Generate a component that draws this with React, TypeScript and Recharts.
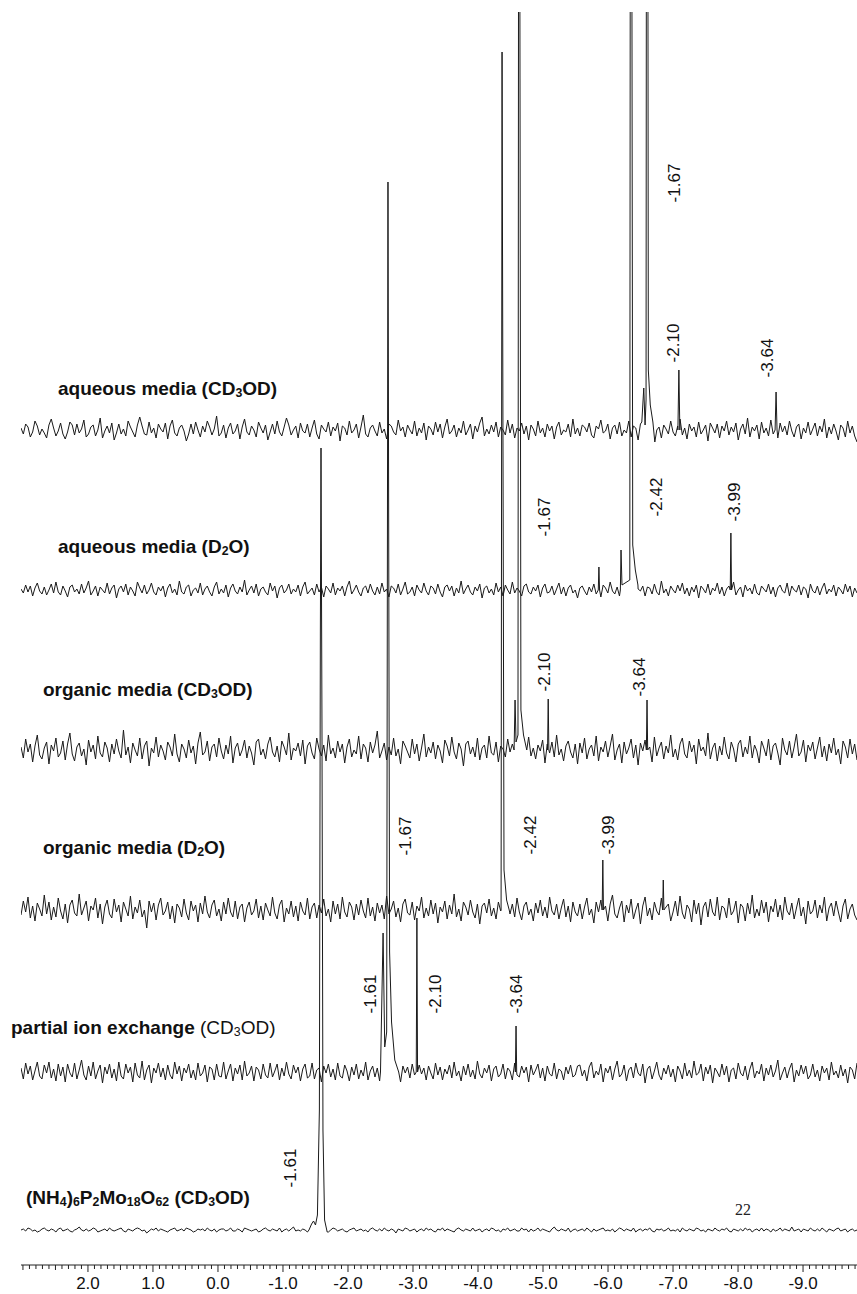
import React from 'react';
import { ComposedChart, Line, Scatter, XAxis, YAxis } from 'recharts';

// chemical shift axis (as printed) and layout of the stacked traces
const X_MAX = 3.03;
const X_MIN = -9.83;
const Y_TOP = 1253;
const MAJOR_TICKS = [2, 1, 0, -1, -2, -3, -4, -5, -6, -7, -8, -9];

// baseline offset of each trace, bottom to top
const OFFSETS = [35, 193, 355, 515, 675, 835];

// baseline noise of each trace (intensity units), left to right
const NOISE_F = [
  0,1,-1,2,1,-1,0,-2,-1,1,2,0,-1,1,0,-2,1,2,-1,0,
  1,-1,-2,0,1,3,0,-1,1,-1,0,2,1,-2,-1,0,1,-1,2,0,
  -1,0,1,2,-1,-2,1,0,-1,1,2,1,-1,0,-3,-1,1,0,2,-1,
  1,0,-1,-2,0,1,2,-1,0,1,-1,2,1,0,-2,-1,1,0,1,-1,
  2,0,-1,1,-2,0,1,1,-1,0,2,-1,-1,1,0,-2,2,1,0,-1,
  0,1,-2,-1,1,2,0,-1,1,0,-1,2,-2,0,1,-1,1,3,-1,0,
  -1,1,0,-2,1,0,2,-1,-1,1,0,1,-2,0,2,1,-1,0,1,-1,
  -2,0,1,2,-1,0,1,-1,0,-2,1,2,0,-1,1,-1,2,0,-1,1,
  0,-3,1,0,-1,2,1,-1,0,1,-2,0,1,-1,2,0,1,-1,-2,1,
  0,2,-1,1,0,-1,-2,1,2,0,-1,1,0,-1,2,-1,0,1,-2,0,
  1,-1,2,1,-1,0,-2,1,0,2,-1,0,1,-1,-1,2,0,1,-2,1,
  -1,0,2,-1,1,0,-1,-2,1,3,0,-1,1,0,-1,2,-2,0,1,-1,
  0,1,-1,2,0,-2,1,-1,0,1,2,-1,0,-1,1,-2,0,2,1,-1,
  1,0,-1,2,-2,0,1,-1,1,0,2,-1,-2,1,0,1,-1,0,2,-1,
  0,-1,1,-2,2,0,-1,1,0,-1,2,1,-1,0,-2,1,0,-1,2,0,
  -1,1,0,2,-1,-2,1,0,-1,1,-1,2,0,1,-2,0,1,-1,2,-1,
  1,0,-2,1,-1,0,2,-1,1,0,-1,3,-1,0,1,-2,1,0,-1,2,
  0,-1,1,-1,2,0,-2,1,0,-1,1,2,-1,0,1,-2,0,1,-1,0,
];
const NOISE_E = [
  4,-7,9,-2,6,-8,1,10,-4,-7,7,-1,10,-6,3,-9,8,-4,5,-10,
  8,-1,-5,9,-7,2,12,-3,-8,6,-4,10,-7,1,7,-11,5,-2,8,-6,
  3,-9,10,-4,-7,8,-1,5,-10,9,-3,-6,11,-8,2,7,-11,4,-1,9,
  -5,4,-8,7,-3,-7,10,-2,6,-9,4,-1,8,-6,2,-8,9,-4,-1,7,
  -10,5,3,-8,8,-4,-5,10,-7,1,8,-9,4,-2,7,-8,11,-4,-1,6,
  -9,5,2,-7,8,-3,-6,9,-5,1,8,-8,4,-4,10,-2,-7,7,-1,5,
  -9,3,8,-6,-4,9,-7,2,4,-10,6,-1,8,-5,3,-8,9,-4,-6,7,
  1,-9,5,-3,8,-7,2,-4,10,-8,1,6,-5,4,-9,7,-2,-7,5,-4,
  9,-3,2,-10,6,-1,5,-6,8,-3,-5,7,-2,4,-8,6,-1,-7,9,-3,
  5,-8,3,-2,7,-6,10,-4,1,-9,6,-3,8,-5,2,-7,11,-2,-6,4,
  -1,7,-9,3,6,-5,-2,8,-7,4,1,-8,9,-3,-5,6,-1,5,-10,7,
  -3,2,8,-6,4,-9,6,-2,-4,9,-7,3,1,-8,5,-2,7,-5,-3,6,
  7,-4,2,-9,5,10,-6,1,-3,8,-10,4,-1,6,-8,3,11,-5,-2,7,
  -9,2,5,-6,9,-1,-4,8,-11,3,6,-7,1,10,-3,-8,4,-2,7,-5,
  3,-10,6,1,-7,9,-4,2,-6,11,-3,-1,8,-9,5,-2,7,-11,4,0,
  -5,8,-3,6,-10,2,4,-7,9,-1,-4,6,-8,3,10,-6,1,-2,8,-9,
  4,-3,7,-5,1,12,-8,-1,5,-6,3,9,-10,2,-4,7,-2,6,-7,-3,
  8,-5,2,-9,6,-1,4,-8,10,-3,1,-6,7,-4,3,-11,5,2,-7,9,
];
const NOISE_D = [
  -5,9,-2,13,-8,4,-11,7,1,-6,15,-4,8,-10,3,-7,12,-1,-9,6,
  -13,5,10,-3,-6,16,-5,2,9,-11,4,0,12,-8,6,-14,3,10,-4,-8,
  11,-2,5,-12,8,1,-6,14,-9,3,-3,10,-7,0,-18,9,-2,7,-10,5,
  12,-5,-1,8,-9,4,-13,6,2,-7,11,-3,-10,9,-1,5,-12,7,-4,14,
  -2,-8,5,10,-6,1,-11,8,-4,12,-2,-7,9,-9,3,6,-12,2,8,-5,
  -1,11,-8,4,-10,7,0,-6,13,-3,-9,5,10,-12,2,-4,9,-7,4,-11,
  8,-1,-5,12,-9,3,7,-8,5,-3,11,-6,1,-12,9,-4,6,-9,13,-2,
  -7,8,3,-10,6,-5,10,-1,-8,12,-6,3,-11,7,-3,5,-9,14,-4,1,
  9,-7,2,-12,6,11,-3,-5,8,-10,4,-1,13,-8,2,-6,10,-4,7,-13,
  3,-2,9,-9,5,-4,16,-7,1,-11,8,3,-5,10,-2,-8,6,-14,4,7,
  -3,11,-6,2,-9,8,-1,5,-12,9,-4,6,-7,12,-2,-10,4,8,-5,1,
  -11,7,-3,10,-6,3,-8,13,-1,-5,6,-9,2,11,-7,4,-12,8,-2,-6,
  6,-9,3,12,-5,1,-13,8,-2,10,-7,4,-11,6,15,-4,-8,2,9,-12,
  5,-3,11,-9,0,7,-14,4,13,-6,2,-10,8,-1,-5,12,-8,3,6,-11,
  -2,9,-6,14,-3,-9,5,1,-12,10,-4,7,-15,3,8,-7,11,-2,-6,13,
  -10,4,2,-8,12,-5,-1,9,-13,6,3,-11,7,-4,15,-8,1,-6,10,-3,
  8,-12,4,-2,11,-7,5,-10,13,-1,-5,7,-9,2,12,-6,3,-14,9,-4,
  -1,10,-8,5,-3,13,-11,2,7,-6,9,-2,-12,4,11,-9,1,6,-5,-10,
];
const NOISE_C = [
  3,-8,11,-2,6,-12,4,15,-5,-9,2,8,-14,5,-1,12,-7,-3,9,-10,
  6,17,-4,-11,3,7,-6,1,-15,10,-2,5,-9,14,-3,-7,8,2,-12,6,
  -4,11,-1,-8,20,-5,3,-13,7,0,-6,12,-9,4,9,-16,2,-3,13,-7,
  5,-1,-10,8,3,-6,16,-4,-12,6,1,-8,10,-3,4,-14,7,18,-5,-2,
  9,-11,3,6,-7,12,-1,-9,5,-4,14,-13,2,7,-6,0,10,-8,4,-3,
  -15,8,11,-5,1,-9,6,13,-2,-7,4,-12,9,3,-5,17,-10,2,-1,7,
  -6,10,-14,4,8,-3,-9,12,1,-6,5,-11,15,-4,2,-8,9,-2,6,-13,
  3,11,-7,0,-4,14,-9,6,2,-12,8,-3,5,19,-8,-1,7,-10,3,-5,
  12,-6,1,-14,9,4,-2,-8,11,-4,6,-11,2,16,-7,3,-3,8,-9,5,
  -1,-13,10,4,-6,13,-2,-9,7,1,-16,6,9,-4,3,-7,12,-10,2,5,
  -8,14,-3,-5,8,-12,4,1,-7,11,-2,6,-15,9,3,-4,-10,7,13,-6,
  2,-9,5,-1,10,-13,6,-3,8,-7,15,-5,1,-11,4,9,-2,-8,6,-14,
  7,-3,12,-9,1,5,-6,14,-11,3,-2,9,-7,4,16,-10,0,6,-13,8,
  -4,2,11,-8,5,-15,7,-1,10,-5,3,-12,13,-6,2,8,-9,4,-3,15,
  -7,1,-10,6,12,-4,-8,9,-2,5,-14,11,-1,3,-6,17,-9,2,7,-11,
  4,-5,13,-3,-9,8,1,-12,6,10,-7,3,-4,14,-8,5,-1,-13,9,2,
  -6,11,-10,4,7,-3,-15,12,0,-5,9,-8,3,16,-6,-2,10,-12,5,-1,
  8,-9,2,13,-7,4,-11,6,-3,12,-5,1,-14,9,3,-8,11,-4,6,-10,
];
const NOISE_B = [
  1,-3,5,-2,4,-6,2,7,-1,-4,3,-5,0,6,-3,8,-2,-5,4,-1,
  -7,3,5,-2,1,-4,6,-3,2,9,-5,-1,4,-6,3,0,-3,7,-4,2,
  5,-8,1,4,-2,6,-5,3,-1,-6,8,2,-3,5,-4,0,7,-2,-5,3,
  -1,4,-7,2,6,-3,1,-5,9,-2,-4,3,5,-6,0,2,-3,7,-5,1,
  4,-2,-6,3,8,-4,1,-3,5,-7,2,6,-1,-4,3,-2,10,-5,0,4,
  -3,6,-6,1,3,-2,-5,7,-1,4,-8,2,5,-3,0,6,-4,1,-2,5,
  -6,3,8,-4,-1,2,-5,6,-2,3,-7,4,1,-3,7,-5,2,-1,4,-6,
  3,9,-4,0,5,-2,-6,2,4,-3,6,-1,-5,3,-4,7,-2,1,-7,4,
  2,-3,6,-5,1,8,-4,-2,3,-6,5,0,-3,7,-1,-5,4,2,-4,6,
  -2,-7,3,5,-1,4,-6,2,-3,9,-4,1,5,-2,-5,3,-1,6,-8,2,
  4,-3,1,-5,7,-2,3,-6,5,0,-4,8,-3,2,-1,-6,4,6,-2,-4,
  3,-1,5,-7,2,6,-3,-2,4,-5,1,7,-4,3,-6,2,5,-3,0,-8,
  2,4,-1,-5,3,-2,6,-4,1,-7,5,2,-3,8,-1,-4,3,-6,4,0,
  -2,5,-3,7,-5,1,-1,4,-6,3,2,-4,6,-2,-5,9,-3,1,-6,4,
  0,-3,5,-1,7,-4,2,-6,3,-2,5,-8,4,1,-3,6,-5,2,-1,7,
  -4,3,-6,1,4,-2,8,-5,0,3,-7,5,-1,2,-4,6,-3,-5,4,1,
  -2,6,-4,3,-7,2,5,-1,-3,7,-6,4,0,-2,5,-5,3,1,-8,6,
  -1,-3,4,-5,2,7,-4,1,-2,5,-6,3,0,-4,6,-2,4,-7,2,-3,
];
const NOISE_A = [
  2,-4,6,3,-7,-2,9,4,-5,1,-3,-8,5,11,2,-6,-1,7,-4,-9,
  -2,8,5,-5,6,-3,1,10,-7,-4,3,5,-6,0,12,-8,-1,4,-3,7,
  -10,-3,6,-4,1,-6,9,3,-2,-7,5,13,4,-4,-5,8,-3,2,-8,6,
  1,-2,7,-9,4,10,-3,-6,2,5,-1,-11,-4,6,-4,8,0,-7,4,-2,
  9,3,-5,1,14,-6,-3,5,-8,2,7,-4,-1,6,-9,3,11,-2,-5,4,
  0,-7,8,2,-3,5,-10,-2,6,-4,9,-2,-6,3,12,5,-5,0,4,-8,
  7,-1,-3,6,-7,2,10,-4,-9,5,1,-2,8,-6,3,-1,7,-11,4,2,
  -5,9,-3,0,6,-8,3,15,-4,-7,2,5,-1,-6,8,-3,1,-9,6,4,
  -2,-5,10,-1,3,-7,5,0,-4,9,-6,2,-3,7,-10,4,1,-5,8,-2,
  6,-8,3,11,-4,-1,5,-7,2,-3,9,-5,0,6,-9,4,-2,7,13,-6,
  1,-4,5,-2,8,-7,3,0,-5,10,-3,6,-8,2,-1,7,-4,4,-10,5,
  1,-6,9,-3,2,-7,6,-1,4,-9,3,8,-5,0,-2,6,-7,11,-4,2,
  -6,5,3,-2,7,-5,-8,4,1,10,-3,-1,6,-9,2,5,-4,8,-6,0,
  -3,9,-7,4,2,-10,6,-1,-5,12,-3,0,7,-6,3,-8,5,1,-4,9,
  -2,-6,4,11,-5,2,-9,6,-1,3,-7,8,-4,0,5,-11,7,2,-3,6,
  -8,4,-1,9,-5,3,-2,7,-10,1,6,-4,12,-7,3,-1,5,-9,8,-3,
  2,-6,10,-4,1,-8,7,-2,4,-5,9,-1,-7,3,6,-9,2,-3,8,-5,
  1,7,-6,4,-2,11,-8,3,-4,6,-1,-10,5,2,-7,9,-3,4,-6,-12,
];

// peak groups: [shift, intensity]
const PEAKS_F = [
  [[-1.40, 0], [-1.44, 6], [-1.47, 9], [-1.50, 5], [-1.53, 15], [-1.56, 120], [-1.575, 600], [-1.585, 782], [-1.60, 500], [-1.615, 100], [-1.64, 10], [-1.68, -2]],
];
const PEAKS_E = [
  [[-2.50, 0], [-2.54, 139], [-2.565, 25], [-2.595, 40], [-2.615, 890], [-2.64, 120], [-2.67, 50], [-2.72, 12], [-2.78, 0]],
  [[-3.05, 0], [-3.06, 154], [-3.07, 0]],
  [[-4.575, 0], [-4.585, 46], [-4.595, 0]],
];
const PEAKS_D = [
  [[-4.355, 0], [-4.37, 858], [-4.40, 40], [-4.44, 10], [-4.48, 0]],
  [[-5.91, 0], [-5.92, 50], [-5.93, 0]],
  [[-6.84, 0], [-6.85, 30], [-6.86, 0]],
];
const PEAKS_C = [
  [[-4.555, 0], [-4.57, 50], [-4.585, 8], [-4.615, 15], [-4.63, 1400], [-4.66, 40], [-4.70, 15], [-4.75, 0]],
  [[-5.07, 0], [-5.08, 51], [-5.09, 0]],
  [[-6.59, 0], [-6.60, 50], [-6.61, 0]],
];
const PEAKS_B = [
  [[-5.85, 0], [-5.86, 23], [-5.87, 0]],
  [[-6.19, 0], [-6.20, 40], [-6.215, 5], [-6.335, 10], [-6.35, 1400], [-6.38, 45], [-6.42, 20], [-6.46, 5]],
  [[-7.88, 0], [-7.89, 57], [-7.90, 0]],
];
const PEAKS_A = [
  [[-6.52, 8], [-6.55, 42], [-6.57, 5], [-6.585, 30], [-6.60, 1400], [-6.62, 60], [-6.65, 25], [-6.69, 8], [-6.72, -12], [-6.75, 0]],
  [[-7.075, 0], [-7.09, 60], [-7.105, 0]],
  [[-8.57, 0], [-8.585, 38], [-8.60, 0]],
];

// peak annotations: [shift, height above baseline, text]
const LABELS_F = [[-1.11, 62, '-1.61']];
const LABELS_E = [[-2.35, 78, '-1.61'], [-3.35, 78, '-2.10'], [-4.585, 78, '-3.64']];
const LABELS_D = [[-2.88, 74, '-1.67'], [-4.80, 75, '-2.42'], [-6.00, 75, '-3.99']];
const LABELS_C = [[-5.03, 78, '-2.10'], [-6.49, 73, '-3.64']];
const LABELS_B = [[-5.03, 73, '-1.67'], [-6.75, 93, '-2.42'], [-7.95, 88, '-3.99']];
const LABELS_A = [[-7.03, 247, '-1.67'], [-7.00, 87, '-2.10'], [-8.46, 72, '-3.64']];

const NOISES = [NOISE_F, NOISE_E, NOISE_D, NOISE_C, NOISE_B, NOISE_A];
const PEAKS = [PEAKS_F, PEAKS_E, PEAKS_D, PEAKS_C, PEAKS_B, PEAKS_A];
const LABELS = [LABELS_F, LABELS_E, LABELS_D, LABELS_C, LABELS_B, LABELS_A];

const FONT = '"Liberation Sans", Arial, sans-serif';

function buildTrace(noise: number[], peaks: number[][][], offset: number) {
  const step = (X_MAX - X_MIN) / (noise.length - 1);
  const pts = noise
    .map((v, i) => ({ x: X_MAX - i * step, y: offset + v }))
    .filter(p => !peaks.some(g => p.x <= g[0][0] && p.x >= g[g.length - 1][0]));
  peaks.forEach(g => g.forEach(([x, v]) => pts.push({ x, y: offset + v })));
  pts.sort((a, b) => b.x - a.x);
  return pts;
}

const traces = NOISES.map((n, i) => buildTrace(n, PEAKS[i], OFFSETS[i]));
const labelData = LABELS.flatMap((list, i) =>
  list.map(([x, h, text]) => ({ x: x as number, y: OFFSETS[i] + (h as number), text }))
);

const minorTicks: number[] = [];
for (let i = 30; i >= -98; i--) minorTicks.push(i / 10);

const AxisTick = (props: any) => {
  const { x, y, payload } = props;
  const v = payload.value;
  const isMajor = MAJOR_TICKS.some(m => Math.abs(m - v) < 1e-6);
  const isHalf = Math.abs(v * 2 - Math.round(v * 2)) < 1e-6;
  const len = isMajor ? 7 : isHalf ? 5 : 4;
  return (
    <g>
      <line x1={x} x2={x} y1={y} y2={y + len} stroke="#222" strokeWidth={1} />
      {isMajor && (
        <text x={x} y={y + 24} textAnchor="middle" fontSize={17} fontFamily={FONT} fill="#111">
          {v.toFixed(1)}
        </text>
      )}
    </g>
  );
};

const PeakLabel = (props: any) => {
  const { cx, cy, payload } = props;
  return (
    <text
      x={cx}
      y={cy}
      transform={`rotate(-90 ${cx} ${cy})`}
      textAnchor="middle"
      dominantBaseline="central"
      fontSize={17}
      fontFamily={FONT}
      fill="#111"
    >
      {payload.text}
    </text>
  );
};

const sub = (t: string) => (
  <sub style={{ fontSize: '0.65em', verticalAlign: '-0.2em', lineHeight: 0 }}>{t}</sub>
);

const nameStyle = (left: number, cy: number, weight = 700): React.CSSProperties => ({
  position: 'absolute',
  left,
  top: cy - 11,
  height: 22,
  lineHeight: '22px',
  fontFamily: FONT,
  fontSize: 19,
  fontWeight: weight,
  color: '#111',
  whiteSpace: 'nowrap',
});

const App: React.FC = () => {
  return (
    <div style={{ position: 'absolute', left: 0, top: 0, width: 857, height: 1294, background: '#fff' }}>
      <ComposedChart width={857} height={1294} margin={{ top: 12, right: 0, bottom: 0, left: 21 }}>
        <XAxis
          type="number"
          dataKey="x"
          domain={[X_MIN, X_MAX]}
          reversed
          allowDataOverflow
          ticks={minorTicks}
          interval={0}
          tick={<AxisTick />}
          tickLine={false}
          tickSize={0}
          tickMargin={0}
          axisLine={{ stroke: '#222' }}
          height={29}
        />
        <YAxis type="number" hide domain={[0, Y_TOP]} allowDataOverflow />
        {traces.map((data, i) => (
          <Line
            key={`trace-${i}`}
            data={data}
            dataKey="y"
            type="linear"
            dot={false}
            stroke="#1a1a1a"
            strokeWidth={1}
            isAnimationActive={false}
          />
        ))}
        <Scatter data={labelData} dataKey="y" shape={<PeakLabel />} isAnimationActive={false} />
      </ComposedChart>

      <div style={nameStyle(58, 389)}>aqueous media (CD{sub('3')}OD)</div>
      <div style={nameStyle(58, 547)}>aqueous media (D{sub('2')}O)</div>
      <div style={nameStyle(43, 690)}>organic media (CD{sub('3')}OD)</div>
      <div style={nameStyle(43, 848)}>organic media (D{sub('2')}O)</div>
      <div style={nameStyle(11, 1028)}>
        partial ion exchange <span style={{ fontWeight: 400 }}>(CD{sub('3')}OD)</span>
      </div>
      <div style={nameStyle(26, 1198)}>
        (NH{sub('4')}){sub('6')}P{sub('2')}Mo{sub('18')}O{sub('62')} (CD{sub('3')}OD)
      </div>
      <div
        style={{
          position: 'absolute',
          left: 744 - 9,
          top: 1210 - 10,
          fontFamily: '"Liberation Serif", "Times New Roman", serif',
          fontSize: 16,
          lineHeight: '20px',
          color: '#222',
        }}
      >
        22
      </div>
    </div>
  );
};

export default App;
